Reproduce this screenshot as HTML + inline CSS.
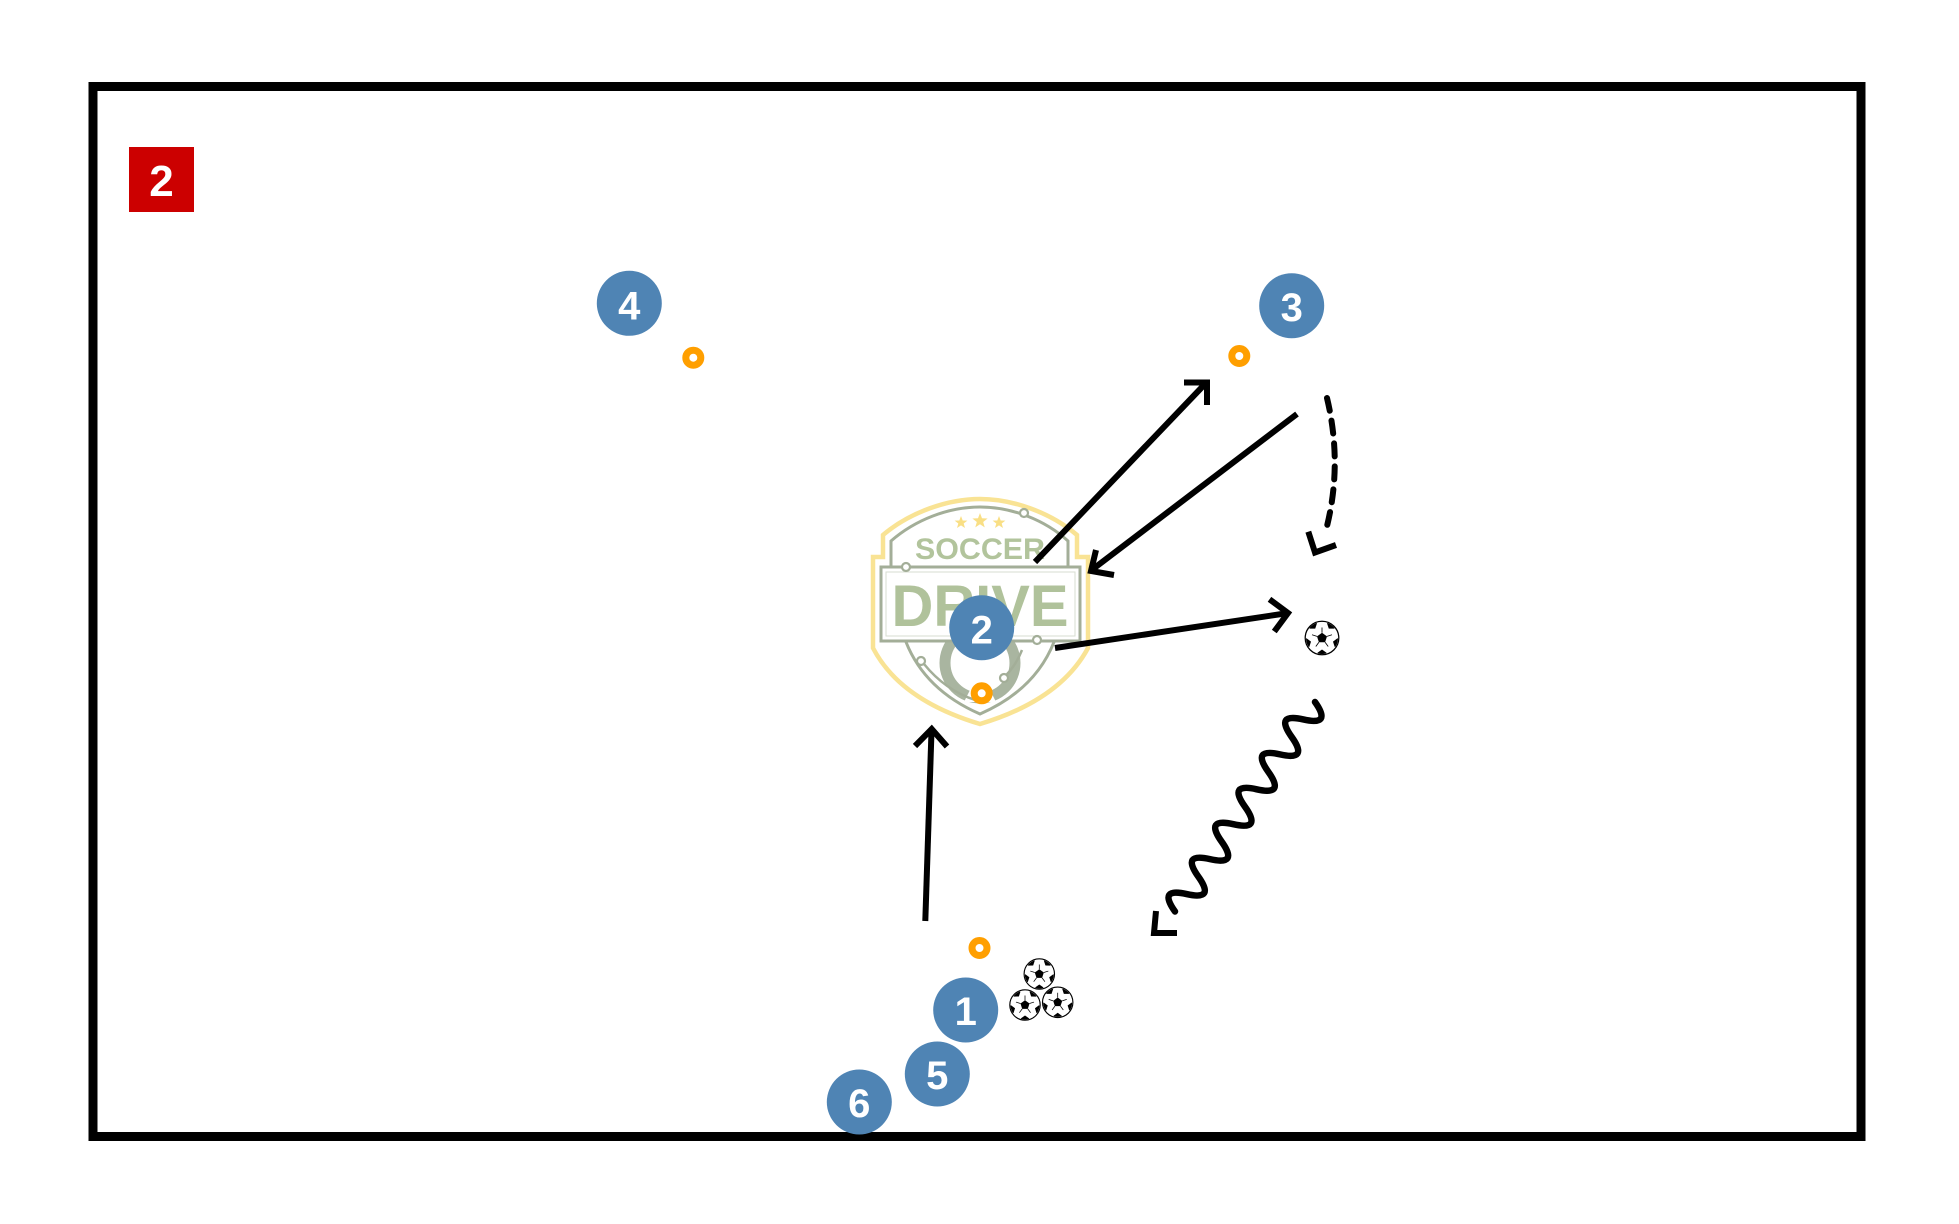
<!DOCTYPE html>
<html>
<head>
<meta charset="utf-8">
<style>
html,body{margin:0;padding:0;background:#fff;}
svg{display:block;}
</style>
</head>
<body>
<svg width="1959" height="1224" viewBox="0 0 1959 1224" xmlns="http://www.w3.org/2000/svg">
<defs>
  <clipPath id="bc"><circle cx="0" cy="0" r="15.3"/></clipPath>
  <g id="ball">
    <circle cx="0" cy="0" r="16" fill="#fff" stroke="#000" stroke-width="1.2"/>
    <g clip-path="url(#bc)">
      <polygon points="0,-5 4.76,-1.55 2.94,4.05 -2.94,4.05 -4.76,-1.55" fill="#000"/>
      <g id="op"><polygon points="0,11 4.3,14.1 2.65,19.2 -2.65,19.2 -4.3,14.1" fill="#000"/></g>
      <use href="#op" transform="rotate(72)"/>
      <use href="#op" transform="rotate(144)"/>
      <use href="#op" transform="rotate(216)"/>
      <use href="#op" transform="rotate(288)"/>
      <g stroke="#000" stroke-width="0.8" fill="none">
        <line x1="0" y1="-5" x2="0" y2="-10"/>
        <line x1="4.76" y1="-1.55" x2="9.5" y2="-3.1"/>
        <line x1="2.94" y1="4.05" x2="5.9" y2="8.1"/>
        <line x1="-2.94" y1="4.05" x2="-5.9" y2="8.1"/>
        <line x1="-4.76" y1="-1.55" x2="-9.5" y2="-3.1"/>
      </g>
    </g>
  </g>
</defs>

<!-- field border -->
<rect x="93" y="86.5" width="1768" height="1050" fill="#fff" stroke="#000" stroke-width="9"/>

<!-- red label -->
<rect x="129" y="147" width="65" height="65" fill="#cc0000"/>
<text x="161.5" y="196" text-anchor="middle" font-family="Liberation Sans, sans-serif" font-weight="bold" font-size="44" fill="#fff">2</text>

<!-- logo -->
<g>
  <path d="M873,648 L873,557 L883,557 L883,535 C910,512 948,499 980,499 C1012,499 1050,512 1077,535 L1077,557 L1088,557 L1088,648 Q1060,700 980,724 Q900,700 873,648 Z" fill="#fff" stroke="#f9e394" stroke-width="4.5" stroke-linejoin="miter"/>
  <path d="M891,567 L891,541 C915,520 948,507 980,507 C1012,507 1045,520 1068,541 L1068,567" fill="none" stroke="#a3ae98" stroke-width="3"/>
  <g fill="#f9df85">
    <polygon points="961,516 962.7,520.5 967.4,520.6 963.7,523.5 965,528 961,525.4 957,528 958.3,523.5 954.6,520.6 959.3,520.5"/>
    <polygon points="980,513 982,518.3 987.6,518.5 983.2,522 984.7,527.4 980,524.2 975.3,527.4 976.8,522 972.4,518.5 978,518.3"/>
    <polygon points="999,516 1000.7,520.5 1005.4,520.6 1001.7,523.5 1003,528 999,525.4 995,528 996.3,523.5 992.6,520.6 997.3,520.5"/>
  </g>
  <text x="980" y="559" text-anchor="middle" font-family="Liberation Sans, sans-serif" font-weight="bold" font-size="30" fill="#b2c49c" textLength="130" lengthAdjust="spacingAndGlyphs">SOCCER</text>
  <circle cx="980" cy="663" r="35" fill="none" stroke="#a9b5a0" stroke-width="11"/>
  <polygon points="964,702 972,686 980,692 988,686 996,702" fill="#fff"/>
  <path d="M906,642 Q925,690 980,714 Q1035,690 1054,642" fill="none" stroke="#a3ae98" stroke-width="3"/>
  <path d="M924,664 Q945,690 975,700" fill="none" stroke="#a3ae98" stroke-width="2.5"/>
  <path d="M1001,680 Q1015,668 1022,650" fill="none" stroke="#a3ae98" stroke-width="2.5"/>
  <rect x="881" y="567" width="199" height="74" fill="#fff" stroke="#a3ae98" stroke-width="3"/>
  <rect x="886" y="572" width="189" height="64" fill="none" stroke="#d7ddd0" stroke-width="1"/>
  <text x="980" y="626" text-anchor="middle" font-family="Liberation Sans, sans-serif" font-weight="bold" font-size="58" fill="#b0c29b" textLength="177" lengthAdjust="spacingAndGlyphs">DRIVE</text>
  <g fill="#fff" stroke="#a3ae98" stroke-width="2.2">
    <circle cx="1024" cy="513" r="4"/>
    <circle cx="906" cy="567" r="4"/>
    <circle cx="1037" cy="640" r="4"/>
    <circle cx="921" cy="661" r="4"/>
    <circle cx="1004" cy="678" r="4"/>
  </g>
</g>

<!-- cones -->
<g fill="#fff" stroke="#ff9f00" stroke-width="7">
  <circle cx="693.3" cy="357.7" r="7.5"/>
  <circle cx="1239.3" cy="356" r="7.5"/>
  <circle cx="981.7" cy="693.3" r="7.5"/>
  <circle cx="979.5" cy="948" r="7.5"/>
</g>

<!-- arrows -->
<g fill="none" stroke="#000" stroke-width="6" stroke-linejoin="miter" stroke-linecap="butt">
  <line x1="1035" y1="562" x2="1205" y2="384"/>
  <polyline points="1184,382.5 1207,382.5 1207,405"/>
  <line x1="1297" y1="414" x2="1093" y2="569"/>
  <polyline points="1096,550 1091,571 1114,575"/>
  <line x1="1055" y1="648" x2="1285" y2="613.5"/>
  <polyline points="1269.5,599.3 1288,613 1274.3,631.5"/>
  <line x1="925.3" y1="921" x2="931.5" y2="731"/>
  <polyline points="915,746 931.7,729 947,746.5"/>
  <path d="M1327,398 Q1343,465 1326,530" stroke-dasharray="13,10" stroke-linecap="round"/>
  <polyline points="1308.3,531.7 1315,552.5 1336,545"/>
  <path transform="translate(1315,702) rotate(123.75)" d="M0,0 q10.5,-28 21,0 t21,0 t21,0 t21,0 t21,0 t21,0 t21,0 t21,0 t21,0 t21,0 t21,0 t21,0" stroke-width="6.5" stroke-linecap="round"/>
  <polyline points="1156,911 1154,933 1177,933"/>
</g>

<!-- balls -->
<use href="#ball" transform="translate(1322,638) scale(1.05)"/>
<use href="#ball" transform="translate(1039.3,974) scale(0.95)"/>
<use href="#ball" transform="translate(1025,1005) scale(0.95)"/>
<use href="#ball" transform="translate(1057.7,1002.3) scale(0.95)"/>

<!-- players -->
<g font-family="Liberation Sans, sans-serif" font-weight="bold" font-size="40" fill="#fff" text-anchor="middle">
  <circle cx="629.3" cy="303.3" r="32.5" fill="#4f84b4"/>
  <text x="629.3" y="319.5">4</text>
  <circle cx="1291.7" cy="305.7" r="32.5" fill="#4f84b4"/>
  <text x="1291.7" y="321">3</text>
  <circle cx="981.7" cy="627.7" r="32.5" fill="#4f84b4"/>
  <text x="981.7" y="643.5">2</text>
  <circle cx="965.7" cy="1010" r="32.5" fill="#4f84b4"/>
  <text x="965.7" y="1025">1</text>
  <circle cx="937.3" cy="1074" r="32.5" fill="#4f84b4"/>
  <text x="937.3" y="1089">5</text>
  <circle cx="859.3" cy="1102" r="32.5" fill="#4f84b4"/>
  <text x="859.3" y="1117">6</text>
</g>
</svg>
</body>
</html>
